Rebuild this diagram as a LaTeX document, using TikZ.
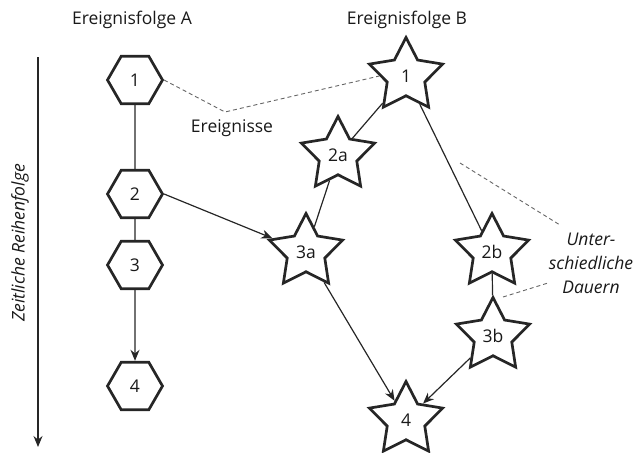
\documentclass[tikz,border=0pt]{standalone}
\usepackage{fontspec}
\setmainfont{Open Sans}
\usetikzlibrary{shapes.geometric,arrows.meta}
\begin{document}
\begin{tikzpicture}[x=1pt,y=-1pt,
  txt/.style={font=\fontsize{17.5}{21}\selectfont, text=black!90},
  hexa/.style={regular polygon, regular polygon sides=6, minimum size=55pt, inner sep=0pt, draw=black!85, line width=2.7pt, txt},
  starn/.style={star, star points=5, star point ratio=1.95, minimum size=77pt, inner sep=0pt, draw=black!85, line width=2.7pt, line join=miter, txt},
  conn/.style={draw=black!85, line width=1.2pt},
  arr/.style={conn, -{Stealth[length=11pt,width=9pt]}},
  dsh/.style={draw=black!60, line width=0.9pt, dash pattern=on 4pt off 3pt}
]
\useasboundingbox (0,0) rectangle (636,452);
% titles
\node[txt] (ta) at (132,20) {Ereignisfolge A};
\node[txt] (tb) at (407,20) {Ereignisfolge B};
% time axis
\coordinate (t0) at (38,57);
\coordinate (t1) at (38,447);
\draw[arr] (t0) -- (t1);
\node[txt, rotate=90, font=\fontsize{17.5}{21}\selectfont\itshape] (tl) at (20,243) {Zeitliche Reihenfolge};
% hexagons
\node[hexa] (h1) at (135,80) {1};
\node[hexa] (h2) at (135,194) {2};
\node[hexa] (h3) at (135,265) {3};
\node[hexa] (h4) at (135,386) {4};
% stars
\node[starn] (b1) at (406,76) {1};
\node[starn] (s2a) at (338,155) {2a};
\node[starn] (s3a) at (306,252) {3a};
\node[starn] (s2b) at (492,252) {2b};
\node[starn] (s3b) at (493,336) {3b};
\node[starn] (b4) at (406,420) {4};
% connectors
\draw[conn] (h1) -- (h2);
\draw[conn] (h2) -- (h3);
\draw[arr] (h3) -- (h4);
\draw[arr] (h2.east) -- (s3a);
\draw[conn] (b1) -- (s2a);
\draw[conn] (s2a) -- (s3a);
\draw[conn] (b1) -- (s2b);
\draw[conn] (s2b) -- (s3b);
\draw[arr] (s3a) -- (b4);
\draw[arr] (s3b) -- (b4);
% annotations
\coordinate (d1) at (225,112);
\draw[dsh] (h1.east) -- (d1) -- (b1.180);
\node[txt] (ev) at (232,128) {Ereignisse};
\coordinate (e1) at (460,163);
\coordinate (e2) at (560,225);
\draw[dsh] (e1) -- (e2);
\coordinate (f1) at (503,297);
\coordinate (f2) at (548,283);
\draw[dsh] (f1) -- (f2);
\node[txt, font=\fontsize{17.5}{24}\selectfont\itshape, align=center] (ud) at (591,263) {Unter-\\schiedliche\\Dauern};
\end{tikzpicture}
\end{document}
